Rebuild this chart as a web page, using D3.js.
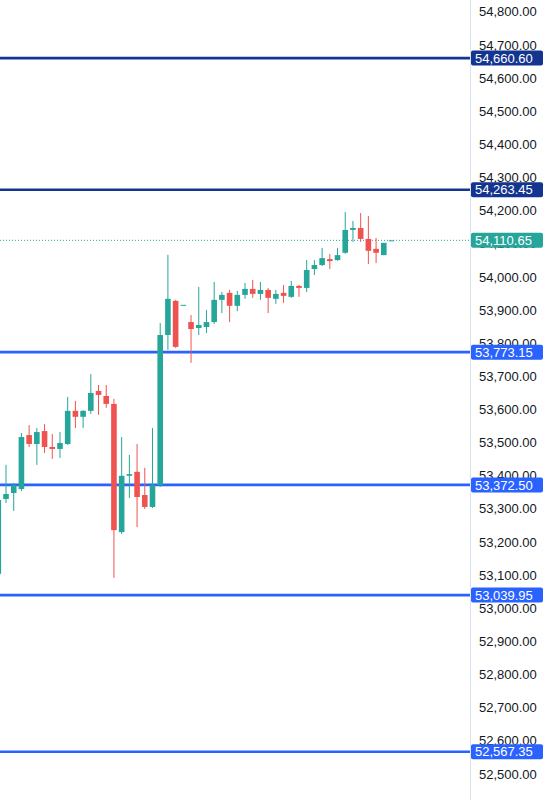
<!DOCTYPE html>
<html>
<head>
<meta charset="utf-8">
<script src="https://cdn.jsdelivr.net/npm/d3@7.9.0/dist/d3.min.js"></script>
<style>
  html, body { margin: 0; padding: 0; background: #fff; }
  svg { display: block; font-family: "Liberation Sans", Arial, sans-serif; }
</style>
</head>
<body>
<svg width="549" height="800"></svg>
<script>
// candles, oldest first (the first one is cut off by the left edge)
const opens  = [53104,53330,53348,53360,53523,53496,53535,53487,53481,53496,53596,53578,53596,53656,53641,53617,53230,53400,53412,53342,53306,53372,53825,53928,53916,53864,53846,53849,53864,53931,53952,53913,53946,53964,53949,53961,53934,53952,53940,53973,53967,54024,54036,54054,54051,54073,54142,54148,54115,54085,54066,54110.65];
const highs  = [53340,53433,53378,53529,53553,53544,53556,53526,53532,53638,53626,53598,53707,53674,53674,53632,53517,53463,53496,53424,53544,53861,54067,53931,53916,53885,53970,53900,53985,53955,53961,53958,53982,53991,53985,53967,53961,53976,53988,53976,54051,54051,54088,54069,54088,54196,54169,54193,54184,54118,54103,54110.65];
const lows   = [53095,53318,53294,53354,53487,53433,53469,53451,53454,53493,53544,53544,53587,53584,53605,53092,53224,53333,53245,53300,53303,53366,53780,53786,53916,53741,53825,53831,53858,53891,53864,53897,53934,53937,53931,53891,53919,53922,53937,53940,53955,54006,54033,54024,54049,54070,54106,54106,54039,54042,54066,54110.65];
const closes = [53327,53345,53372,53517,53496,53532,53487,53481,53499,53596,53578,53596,53650,53644,53617,53236,53400,53405,53336,53306,53372,53825,53934,53789,53916,53843,53855,53864,53931,53946,53913,53946,53964,53949,53961,53937,53949,53943,53973,53967,54021,54036,54057,54048,54066,54142,54148,54115,54079,54073,54103,54110.65];

// horizontal levels drawn on the chart
const levelPrices = [54660.60, 54263.45, 53773.15, 53372.50, 53039.95, 52567.35];
const levelGroups = ['dark', 'dark', 'blue', 'blue', 'blue', 'blue'];
const lastPrice = 54110.65;

const tickValues = d3.range(52500, 54801, 100);

const W = 549, H = 800;
const axisX = 470;
const colors = { up: '#26a69a', down: '#ef5350', dark: '#13348f', blue: '#2962ff', last: '#26a69a' };

const svg = d3.select('svg');

const y = d3.scaleLinear().domain([52421.5, 54836]).range([H, 0]);
const x = d3.scaleLinear().domain([0, opens.length - 1]).range([-1.7, 391.5]);
const bodyW = 5.6;
const fmt = d3.format(',.2f');

const candles = opens.map((o, i) => ({ i, o, h: highs[i], l: lows[i], c: closes[i] }));

// levels
svg.selectAll('line.level')
  .data(levelPrices)
  .join('line')
  .attr('class', 'level')
  .attr('x1', 0).attr('x2', axisX)
  .attr('y1', d => y(d)).attr('y2', d => y(d))
  .attr('stroke', (d, i) => colors[levelGroups[i]])
  .attr('stroke-width', 2.6);

// last price line
svg.append('line')
  .attr('x1', 0).attr('x2', axisX)
  .attr('y1', y(lastPrice)).attr('y2', y(lastPrice))
  .attr('stroke', colors.last)
  .attr('stroke-width', 1)
  .attr('stroke-dasharray', '1,2');

// candles
const g = svg.append('g');
g.selectAll('line.wick')
  .data(candles)
  .join('line')
  .attr('class', 'wick')
  .attr('x1', d => x(d.i)).attr('x2', d => x(d.i))
  .attr('y1', d => y(d.h)).attr('y2', d => y(d.l))
  .attr('stroke', d => d.c >= d.o ? colors.up : colors.down)
  .attr('stroke-width', 1);

g.selectAll('rect.body')
  .data(candles)
  .join('rect')
  .attr('class', 'body')
  .attr('x', d => x(d.i) - bodyW / 2)
  .attr('width', bodyW)
  .attr('y', d => y(Math.max(d.o, d.c)))
  .attr('height', d => Math.max(1, Math.abs(y(d.o) - y(d.c))))
  .attr('fill', d => d.c >= d.o ? colors.up : colors.down);

// price scale
svg.append('rect')
  .attr('x', axisX).attr('y', 0)
  .attr('width', W - axisX).attr('height', H)
  .attr('fill', '#fff');

svg.append('line')
  .attr('x1', axisX + 0.5).attr('x2', axisX + 0.5)
  .attr('y1', 0).attr('y2', H)
  .attr('stroke', '#e0e3eb');

svg.selectAll('text.tick')
  .data(tickValues)
  .join('text')
  .attr('class', 'tick')
  .attr('x', 479)
  .attr('y', d => y(d))
  .attr('dy', '0.35em')
  .attr('font-size', 13)
  .attr('fill', '#131722')
  .text(d => fmt(d));

// price labels
const labelData = levelPrices.map((p, i) => ({ p, color: colors[levelGroups[i]] }))
  .concat([{ p: lastPrice, color: colors.last }]);

const labels = svg.selectAll('g.label')
  .data(labelData)
  .join('g')
  .attr('class', 'label')
  .attr('transform', d => `translate(${axisX + 1},${y(d.p)})`);

labels.append('rect')
  .attr('x', 0).attr('y', -7.5)
  .attr('width', 72).attr('height', 15)
  .attr('rx', 2)
  .attr('fill', d => d.color);

labels.append('text')
  .attr('x', 4)
  .attr('dy', '0.36em')
  .attr('font-size', 13)
  .attr('fill', '#fff')
  .text(d => fmt(d.p));
</script>
</body>
</html>
